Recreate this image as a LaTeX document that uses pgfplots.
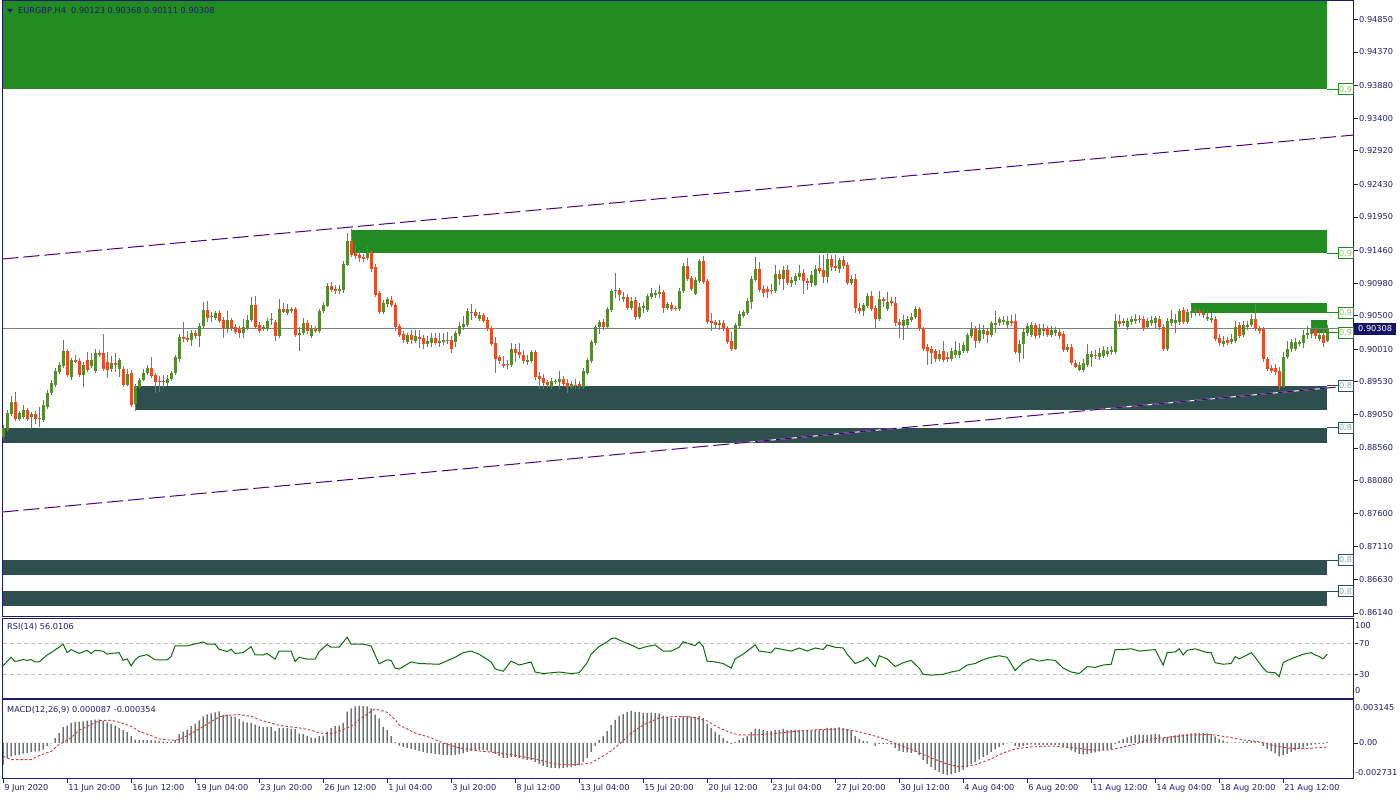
\documentclass[border=0pt]{standalone}
\usepackage{pgfplots}
\usepackage{pgfplotstable}
\pgfplotsset{compat=1.18}
\usepackage{fontspec}
\setmainfont{DejaVu Sans}
\definecolor{navyc}{RGB}{28,28,110}
\definecolor{upc}{RGB}{85,140,45}
\definecolor{dnc}{RGB}{245,72,34}
\definecolor{zoneg}{RGB}{34,139,34}
\definecolor{zoned}{RGB}{47,79,79}
\definecolor{trendc}{RGB}{75,0,130}
\definecolor{rsic}{RGB}{10,110,10}
\definecolor{histc}{RGB}{25,38,38}
\definecolor{sigc}{RGB}{215,50,50}
\definecolor{pricebg}{RGB}{20,20,100}
\definecolor{lblg}{RGB}{150,195,100}
\definecolor{lbld}{RGB}{130,170,185}
\newcommand{\mtfont}{\fontsize{8.2}{9.5}\selectfont}

\pgfplotstableread{
o h l c
0.8872 0.8890 0.8868 0.8885
0.8882 0.8912 0.8880 0.8907
0.8906 0.8932 0.8903 0.8924
0.8924 0.8938 0.8896 0.8899
0.8899 0.8910 0.8896 0.8907
0.8902 0.8919 0.8899 0.8912
0.8912 0.8915 0.8896 0.8899
0.8902 0.8909 0.8884 0.8906
0.8906 0.8910 0.8891 0.8899
0.8899 0.8916 0.8887 0.8900
0.8897 0.8926 0.8894 0.8919
0.8916 0.8941 0.8913 0.8937
0.8937 0.8956 0.8934 0.8951
0.8949 0.8973 0.8946 0.8969
0.8968 0.8982 0.8965 0.8978
0.8976 0.9015 0.8973 0.8998
0.8998 0.9001 0.8960 0.8963
0.8960 0.8988 0.8956 0.8985
0.8985 0.8993 0.8981 0.8982
0.8984 0.8988 0.8960 0.8963
0.8963 0.8982 0.8946 0.8978
0.8985 0.8997 0.8968 0.8971
0.8976 0.8995 0.8973 0.8985
0.8969 0.9001 0.8966 0.8995
0.8995 0.9000 0.8990 0.8993
0.8995 0.9023 0.8969 0.8972
0.8982 0.8997 0.8959 0.8971
0.8972 0.8991 0.8968 0.8981
0.8981 0.8995 0.8968 0.8978
0.8972 0.8988 0.8960 0.8985
0.8972 0.8976 0.8946 0.8949
0.8949 0.8972 0.8947 0.8965
0.8966 0.8971 0.8916 0.8919
0.8921 0.8950 0.8910 0.8947
0.8946 0.8959 0.8943 0.8956
0.8956 0.8972 0.8954 0.8966
0.8966 0.8978 0.8963 0.8973
0.8973 0.8990 0.8959 0.8962
0.8963 0.8966 0.8937 0.8953
0.8955 0.8962 0.8938 0.8954
0.8955 0.8963 0.8944 0.8954
0.8951 0.8963 0.8947 0.8957
0.8957 0.8969 0.8954 0.8966
0.8966 0.8993 0.8963 0.8990
0.8987 0.9023 0.8982 0.9019
0.9019 0.9041 0.9012 0.9016
0.9017 0.9028 0.9012 0.9015
0.9015 0.9029 0.9006 0.9025
0.9025 0.9029 0.9016 0.9020
0.9020 0.9039 0.9004 0.9035
0.9035 0.9070 0.9032 0.9059
0.9059 0.9072 0.9041 0.9047
0.9048 0.9056 0.9041 0.9050
0.9047 0.9057 0.9044 0.9054
0.9054 0.9059 0.9039 0.9042
0.9044 0.9048 0.9017 0.9031
0.9031 0.9057 0.9025 0.9044
0.9044 0.9047 0.9028 0.9032
0.9034 0.9038 0.9023 0.9026
0.9031 0.9035 0.9017 0.9025
0.9025 0.9045 0.9017 0.9034
0.9032 0.9051 0.9029 0.9044
0.9044 0.9078 0.9041 0.9066
0.9066 0.9079 0.9031 0.9034
0.9037 0.9041 0.9025 0.9028
0.9031 0.9037 0.9028 0.9033
0.9031 0.9047 0.9028 0.9042
0.9044 0.9054 0.9037 0.9045
0.9041 0.9044 0.9013 0.9020
0.9020 0.9075 0.9017 0.9060
0.9060 0.9069 0.9054 0.9056
0.9054 0.9067 0.9051 0.9060
0.9057 0.9063 0.9054 0.9060
0.9060 0.9063 0.9019 0.9022
0.9022 0.9034 0.8998 0.9025
0.9025 0.9047 0.9022 0.9039
0.9039 0.9044 0.9023 0.9028
0.9020 0.9037 0.9017 0.9031
0.9031 0.9035 0.9025 0.9028
0.9028 0.9060 0.9025 0.9057
0.9057 0.9070 0.9054 0.9066
0.9064 0.9098 0.9063 0.9094
0.9094 0.9100 0.9085 0.9088
0.9089 0.9095 0.9082 0.9086
0.9086 0.9095 0.9082 0.9089
0.9088 0.9130 0.9083 0.9126
0.9125 0.9171 0.9123 0.9160
0.9160 0.9177 0.9136 0.9139
0.9142 0.9154 0.9133 0.9138
0.9139 0.9147 0.9129 0.9135
0.9136 0.9141 0.9129 0.9133
0.9135 0.9152 0.9132 0.9144
0.9144 0.9147 0.9114 0.9119
0.9122 0.9126 0.9078 0.9081
0.9083 0.9086 0.9053 0.9056
0.9056 0.9073 0.9053 0.9069
0.9067 0.9078 0.9063 0.9075
0.9073 0.9079 0.9063 0.9066
0.9066 0.9069 0.9028 0.9034
0.9035 0.9038 0.9019 0.9022
0.9023 0.9028 0.9010 0.9015
0.9012 0.9025 0.9009 0.9022
0.9022 0.9029 0.9009 0.9015
0.9013 0.9029 0.9010 0.9020
0.9019 0.9029 0.9003 0.9016
0.9017 0.9022 0.9001 0.9009
0.9009 0.9020 0.9004 0.9013
0.9010 0.9025 0.9004 0.9017
0.9017 0.9025 0.9007 0.9010
0.9010 0.9025 0.9004 0.9013
0.9012 0.9025 0.9007 0.9015
0.9013 0.9026 0.9009 0.9015
0.9015 0.9020 0.8995 0.9001
0.9012 0.9028 0.9004 0.9025
0.9023 0.9041 0.9020 0.9035
0.9034 0.9050 0.9029 0.9038
0.9037 0.9061 0.9034 0.9057
0.9055 0.9067 0.9044 0.9056
0.9056 0.9060 0.9047 0.9050
0.9045 0.9056 0.9042 0.9051
0.9051 0.9054 0.9039 0.9042
0.9044 0.9048 0.9028 0.9031
0.9032 0.9035 0.9006 0.9009
0.9010 0.9019 0.8966 0.8987
0.8990 0.8993 0.8979 0.8984
0.8979 0.8991 0.8973 0.8976
0.8978 0.8985 0.8972 0.8979
0.8978 0.9010 0.8975 0.9001
0.9001 0.9009 0.8982 0.8995
0.8997 0.9010 0.8988 0.8993
0.8993 0.9000 0.8979 0.8984
0.8982 0.8993 0.8978 0.8985
0.8984 0.9000 0.8981 0.8997
0.8997 0.9000 0.8956 0.8960
0.8962 0.8968 0.8943 0.8957
0.8959 0.8965 0.8943 0.8951
0.8953 0.8956 0.8944 0.8948
0.8946 0.8959 0.8943 0.8954
0.8953 0.8957 0.8950 0.8955
0.8953 0.8969 0.8943 0.8957
0.8957 0.8962 0.8947 0.8950
0.8951 0.8957 0.8937 0.8946
0.8946 0.8954 0.8943 0.8950
0.8949 0.8957 0.8943 0.8948
0.8950 0.8954 0.8943 0.8947
0.8946 0.8973 0.8943 0.8969
0.8966 0.8988 0.8963 0.8985
0.8984 0.9015 0.8981 0.9012
0.9010 0.9037 0.9007 0.9034
0.9034 0.9044 0.9023 0.9041
0.9041 0.9045 0.9029 0.9034
0.9034 0.9063 0.9031 0.9060
0.9058 0.9089 0.9056 0.9086
0.9086 0.9113 0.9076 0.9088
0.9088 0.9091 0.9072 0.9081
0.9075 0.9085 0.9070 0.9078
0.9078 0.9082 0.9059 0.9061
0.9061 0.9078 0.9059 0.9072
0.9073 0.9078 0.9044 0.9048
0.9048 0.9069 0.9045 0.9063
0.9061 0.9070 0.9054 0.9064
0.9059 0.9082 0.9056 0.9079
0.9078 0.9091 0.9075 0.9083
0.9081 0.9088 0.9076 0.9083
0.9082 0.9095 0.9076 0.9085
0.9085 0.9088 0.9054 0.9061
0.9061 0.9070 0.9059 0.9067
0.9066 0.9070 0.9057 0.9060
0.9061 0.9064 0.9057 0.9060
0.9060 0.9091 0.9057 0.9086
0.9086 0.9127 0.9083 0.9123
0.9123 0.9135 0.9101 0.9104
0.9106 0.9108 0.9086 0.9089
0.9082 0.9107 0.9080 0.9102
0.9101 0.9133 0.9098 0.9130
0.9130 0.9138 0.9097 0.9100
0.9101 0.9104 0.9038 0.9041
0.9042 0.9054 0.9028 0.9039
0.9041 0.9044 0.9032 0.9037
0.9037 0.9044 0.9029 0.9039
0.9039 0.9044 0.9028 0.9031
0.9032 0.9035 0.9009 0.9012
0.9013 0.9026 0.8998 0.9001
0.9001 0.9039 0.9000 0.9036
0.9035 0.9057 0.9032 0.9053
0.9050 0.9059 0.9047 0.9056
0.9054 0.9076 0.9051 0.9072
0.9070 0.9108 0.9060 0.9104
0.9103 0.9136 0.9100 0.9119
0.9119 0.9129 0.9085 0.9088
0.9089 0.9095 0.9078 0.9083
0.9089 0.9094 0.9076 0.9085
0.9086 0.9097 0.9082 0.9088
0.9086 0.9125 0.9083 0.9111
0.9111 0.9117 0.9095 0.9104
0.9104 0.9123 0.9088 0.9117
0.9117 0.9125 0.9095 0.9098
0.9098 0.9107 0.9092 0.9103
0.9101 0.9113 0.9095 0.9108
0.9107 0.9125 0.9103 0.9113
0.9113 0.9119 0.9082 0.9101
0.9101 0.9105 0.9088 0.9098
0.9098 0.9116 0.9092 0.9110
0.9095 0.9125 0.9094 0.9119
0.9120 0.9139 0.9111 0.9116
0.9117 0.9139 0.9098 0.9107
0.9107 0.9148 0.9098 0.9133
0.9133 0.9139 0.9116 0.9122
0.9123 0.9139 0.9116 0.9120
0.9119 0.9135 0.9113 0.9132
0.9132 0.9138 0.9119 0.9123
0.9125 0.9129 0.9095 0.9098
0.9098 0.9110 0.9095 0.9104
0.9104 0.9111 0.9054 0.9061
0.9061 0.9069 0.9053 0.9057
0.9057 0.9069 0.9050 0.9066
0.9064 0.9083 0.9061 0.9079
0.9079 0.9086 0.9057 0.9060
0.9061 0.9066 0.9032 0.9045
0.9045 0.9086 0.9042 0.9075
0.9075 0.9078 0.9063 0.9072
0.9060 0.9085 0.9057 0.9070
0.9072 0.9078 0.9064 0.9069
0.9069 0.9078 0.9035 0.9039
0.9041 0.9045 0.9017 0.9037
0.9035 0.9051 0.9014 0.9044
0.9037 0.9050 0.9032 0.9045
0.9044 0.9054 0.9041 0.9048
0.9048 0.9064 0.9045 0.9060
0.9060 0.9063 0.9028 0.9031
0.9031 0.9034 0.8998 0.9001
0.9004 0.9009 0.8978 0.8998
0.9001 0.9006 0.8979 0.8995
0.8998 0.9001 0.8982 0.8987
0.8987 0.9000 0.8984 0.8994
0.8998 0.9013 0.8982 0.8985
0.8990 0.8997 0.8982 0.8987
0.8987 0.9003 0.8984 0.8998
0.8993 0.9013 0.8988 0.9000
0.8993 0.9010 0.8988 0.8998
0.8998 0.9012 0.8995 0.9007
0.8998 0.9025 0.8995 0.9022
0.9020 0.9041 0.9017 0.9031
0.9031 0.9035 0.9003 0.9013
0.9013 0.9038 0.9010 0.9029
0.9023 0.9037 0.9016 0.9029
0.9028 0.9032 0.9010 0.9022
0.9022 0.9042 0.9019 0.9039
0.9036 0.9057 0.9025 0.9039
0.9039 0.9048 0.9035 0.9045
0.9041 0.9050 0.9037 0.9044
0.9036 0.9050 0.9032 0.9042
0.9042 0.9051 0.9035 0.9039
0.9042 0.9053 0.8994 0.8997
0.8995 0.9015 0.8982 0.9009
0.9009 0.9032 0.8987 0.9026
0.9025 0.9039 0.9020 0.9035
0.9022 0.9041 0.9019 0.9037
0.9037 0.9039 0.9016 0.9020
0.9022 0.9038 0.9017 0.9032
0.9031 0.9038 0.9020 0.9028
0.9032 0.9035 0.9019 0.9022
0.9022 0.9035 0.9019 0.9029
0.9025 0.9034 0.9020 0.9029
0.9026 0.9031 0.9016 0.9020
0.9023 0.9028 0.8997 0.9000
0.9000 0.9009 0.8997 0.9004
0.9004 0.9009 0.8978 0.8981
0.8981 0.8985 0.8973 0.8975
0.8971 0.8982 0.8969 0.8978
0.8971 0.8987 0.8968 0.8981
0.8978 0.9009 0.8975 0.8994
0.8990 0.8998 0.8975 0.8994
0.8993 0.9000 0.8987 0.8991
0.8990 0.9003 0.8985 0.8995
0.8991 0.9006 0.8988 0.9000
0.8994 0.9004 0.8990 0.8998
0.8997 0.9006 0.8993 0.9000
0.8997 0.9053 0.8994 0.9042
0.9042 0.9051 0.9034 0.9038
0.9039 0.9047 0.9035 0.9042
0.9034 0.9047 0.9029 0.9042
0.9041 0.9050 0.9037 0.9045
0.9042 0.9053 0.9038 0.9045
0.9045 0.9051 0.9039 0.9044
0.9045 0.9050 0.9028 0.9031
0.9034 0.9047 0.9031 0.9042
0.9039 0.9050 0.9035 0.9044
0.9039 0.9050 0.9032 0.9047
0.9045 0.9050 0.9029 0.9034
0.9034 0.9038 0.8998 0.9001
0.9001 0.9047 0.8998 0.9042
0.9039 0.9059 0.9035 0.9045
0.9039 0.9053 0.9025 0.9044
0.9041 0.9060 0.9037 0.9057
0.9059 0.9063 0.9038 0.9041
0.9041 0.9060 0.9038 0.9056
0.9054 0.9063 0.9047 0.9057
0.9056 0.9064 0.9050 0.9060
0.9057 0.9061 0.9050 0.9054
0.9054 0.9061 0.9047 0.9051
0.9045 0.9060 0.9042 0.9048
0.9044 0.9054 0.9039 0.9047
0.9045 0.9050 0.9013 0.9016
0.9017 0.9023 0.9006 0.9010
0.9009 0.9020 0.9004 0.9013
0.9015 0.9019 0.9007 0.9010
0.9012 0.9023 0.9009 0.9016
0.9013 0.9042 0.9010 0.9034
0.9037 0.9041 0.9017 0.9020
0.9022 0.9042 0.9019 0.9037
0.9034 0.9042 0.9029 0.9037
0.9037 0.9053 0.9034 0.9045
0.9045 0.9067 0.9028 0.9031
0.9031 0.9035 0.9023 0.9028
0.9031 0.9034 0.8982 0.8987
0.8987 0.8990 0.8969 0.8972
0.8973 0.8978 0.8966 0.8969
0.8973 0.8979 0.8963 0.8968
0.8969 0.8975 0.8941 0.8946
0.8946 0.8997 0.8944 0.8990
0.8990 0.9013 0.8987 0.9001
0.9001 0.9016 0.8997 0.9012
0.9001 0.9017 0.8998 0.9012
0.9009 0.9015 0.9006 0.9012
0.9010 0.9029 0.9003 0.9022
0.9022 0.9035 0.9016 0.9025
0.9023 0.9035 0.9017 0.9031
0.9029 0.9035 0.9016 0.9020
0.9016 0.9029 0.9013 0.9022
0.9022 0.9031 0.9004 0.9010
0.90123 0.90368 0.90111 0.90308
}\ohlc

\pgfplotstableread[row sep=\\]{m\\
-0.00184\\ -0.00128\\ -0.00114\\ -0.00107\\ -0.00102\\ -0.00091\\ -0.00085\\ -0.00079\\ -0.00071\\ -0.00071\\
-0.00057\\ -0.00028\\ -0.00004\\ 0.00043\\ 0.00085\\ 0.00136\\ 0.00147\\ 0.00170\\ 0.00179\\ 0.00181\\
0.00184\\ 0.00190\\ 0.00193\\ 0.00198\\ 0.00198\\ 0.00187\\ 0.00176\\ 0.00162\\ 0.00147\\ 0.00128\\
0.00108\\ 0.00091\\ 0.00057\\ 0.00028\\ 0.00023\\ 0.00023\\ 0.00023\\ 0.00023\\ 0.00020\\ 0.00017\\
0.00011\\ 0.00006\\ 0.00011\\ 0.00023\\ 0.00074\\ 0.00096\\ 0.00113\\ 0.00142\\ 0.00164\\ 0.00193\\
0.00227\\ 0.00244\\ 0.00252\\ 0.00261\\ 0.00269\\ 0.00238\\ 0.00241\\ 0.00227\\ 0.00221\\ 0.00204\\
0.00181\\ 0.00176\\ 0.00170\\ 0.00156\\ 0.00142\\ 0.00136\\ 0.00136\\ 0.00136\\ 0.00102\\ 0.00128\\
0.00128\\ 0.00128\\ 0.00119\\ 0.00119\\ 0.00079\\ 0.00074\\ 0.00057\\ 0.00045\\ 0.00043\\ 0.00057\\
0.00062\\ 0.00096\\ 0.00125\\ 0.00142\\ 0.00147\\ 0.00170\\ 0.00266\\ 0.00295\\ 0.00312\\ 0.003145\\
0.00313\\ 0.00312\\ 0.00295\\ 0.00241\\ 0.00210\\ 0.00136\\ 0.00108\\ 0.00057\\ 0.00006\\ -0.00023\\
-0.00034\\ -0.00043\\ -0.00051\\ -0.00060\\ -0.00068\\ -0.00077\\ -0.00085\\ -0.00089\\ -0.00094\\ -0.00098\\
-0.00102\\ -0.00102\\ -0.00106\\ -0.00102\\ -0.00094\\ -0.00089\\ -0.00077\\ -0.00068\\ -0.00060\\ -0.00060\\
-0.00060\\ -0.00064\\ -0.00077\\ -0.00094\\ -0.00111\\ -0.00128\\ -0.00128\\ -0.00119\\ -0.00119\\ -0.00128\\
-0.00136\\ -0.00145\\ -0.00145\\ -0.00162\\ -0.00179\\ -0.00196\\ -0.00204\\ -0.00213\\ -0.00213\\ -0.00217\\
-0.00213\\ -0.00208\\ -0.00204\\ -0.00196\\ -0.00187\\ -0.00162\\ -0.00128\\ -0.00077\\ -0.00026\\ 0.00026\\
0.00060\\ 0.00102\\ 0.00153\\ 0.00196\\ 0.00230\\ 0.00247\\ 0.00264\\ 0.00272\\ 0.00264\\ 0.00264\\
0.00255\\ 0.00255\\ 0.00255\\ 0.00255\\ 0.00251\\ 0.00230\\ 0.00221\\ 0.00213\\ 0.00204\\ 0.00213\\
0.00230\\ 0.00230\\ 0.00221\\ 0.00221\\ 0.00230\\ 0.00213\\ 0.00162\\ 0.00128\\ 0.00094\\ 0.00068\\
0.00043\\ 0.00017\\ -0.00009\\ 0.00009\\ 0.00026\\ 0.00043\\ 0.00060\\ 0.00094\\ 0.00119\\ 0.00119\\
0.00111\\ 0.00102\\ 0.00102\\ 0.00111\\ 0.00111\\ 0.00119\\ 0.00111\\ 0.00111\\ 0.00111\\ 0.00111\\
0.00106\\ 0.00102\\ 0.00102\\ 0.00111\\ 0.00115\\ 0.00115\\ 0.00128\\ 0.00128\\ 0.00128\\ 0.00132\\
0.00128\\ 0.00119\\ 0.00102\\ 0.00060\\ 0.00034\\ 0.00017\\ 0.00013\\ 0.00000\\ -0.00026\\ -0.00009\\
-0.00009\\ -0.00009\\ -0.00013\\ -0.00043\\ -0.00068\\ -0.00077\\ -0.00081\\ -0.00085\\ -0.00077\\ -0.00102\\
-0.00145\\ -0.00179\\ -0.00204\\ -0.00230\\ -0.00247\\ -0.00264\\ -0.002731\\ -0.00268\\ -0.00255\\ -0.00247\\
-0.00230\\ -0.00208\\ -0.00179\\ -0.00162\\ -0.00140\\ -0.00119\\ -0.00102\\ -0.00077\\ -0.00055\\ -0.00034\\
-0.00017\\ -0.00004\\ 0.00004\\ -0.00026\\ -0.00034\\ -0.00026\\ -0.00017\\ -0.00013\\ -0.00017\\ -0.00017\\
-0.00017\\ -0.00017\\ -0.00017\\ -0.00017\\ -0.00017\\ -0.00034\\ -0.00043\\ -0.00064\\ -0.00081\\ -0.00094\\
-0.00098\\ -0.00094\\ -0.00085\\ -0.00081\\ -0.00072\\ -0.00064\\ -0.00055\\ -0.00051\\ -0.00009\\ 0.00017\\
0.00034\\ 0.00047\\ 0.00060\\ 0.00068\\ 0.00072\\ 0.00068\\ 0.00068\\ 0.00072\\ 0.00077\\ 0.00072\\
0.00043\\ 0.00051\\ 0.00060\\ 0.00064\\ 0.00072\\ 0.00072\\ 0.00077\\ 0.00081\\ 0.00085\\ 0.00085\\
0.00085\\ 0.00081\\ 0.00077\\ 0.00055\\ 0.00034\\ 0.00021\\ 0.00009\\ 0.00000\\ 0.00004\\ 0.00004\\
0.00009\\ 0.00013\\ 0.00017\\ 0.00013\\ 0.00004\\ -0.00026\\ -0.00051\\ -0.00072\\ -0.00089\\ -0.00115\\
-0.00106\\ -0.00094\\ -0.00077\\ -0.00064\\ -0.00051\\ -0.00038\\ -0.00026\\ -0.00017\\ -0.00013\\ -0.00009\\
-0.00009\\ 0.000087\\
}\macd

\pgfplotsset{
  mtpanel/.style={
    scale only axis, width=1351.5pt, xmin=-0.15, xmax=337.7,
    axis line style={draw=navyc, line width=1pt},
    tick style={draw=navyc, line width=0.8pt},
    tick align=outside, major tick length=4pt,
    ytick pos=right, yticklabel pos=right,
    yticklabel style={font=\mtfont, text=navyc, anchor=west, inner sep=1pt},
    scaled x ticks=false, scaled y ticks=false,
    xtick=\empty, clip=false,
  },
}
\newcommand{\lvlbox}[4]{%
  \draw[#1, line width=1pt] (axis cs:330.9,#2) -- (axis cs:333.6,#2);
  \node[draw=#1, line width=1pt, fill=white, text=#3, font=\mtfont, anchor=west,
        inner sep=0.5pt, minimum height=11pt, minimum width=15pt] at (axis cs:333.6,#2) {#4};}

\begin{document}
\begin{tikzpicture}
\useasboundingbox (0,0) rectangle (1400pt,800pt);

% ---------------- main price panel ----------------
\begin{axis}[mtpanel, at={(2.5pt,183pt)}, anchor=south west, height=616pt,
  ymin=0.86081, ymax=0.95118,
  ytick={0.94850,0.94370,0.93880,0.93400,0.92920,0.92430,0.91950,0.91460,0.90980,0.90500,0.90010,0.89530,0.89050,0.88560,0.88080,0.87600,0.87110,0.86630,0.86140},
  yticklabels={0.94850,0.94370,0.93880,0.93400,0.92920,0.92430,0.91950,0.91460,0.90980,0.90500,0.90010,0.89530,0.89050,0.88560,0.88080,0.87600,0.87110,0.86630,0.86140}]

% zones
\addplot[fill=zoneg, draw=none] coordinates {(-0.15,0.95118) (330.9,0.95118) (330.9,0.93823) (-0.15,0.93823)} -- cycle;
\addplot[fill=zoneg, draw=none] coordinates {(86.9,0.91759) (330.9,0.91759) (330.9,0.91417) (86.9,0.91417)} -- cycle;
\addplot[fill=zoneg, draw=none] coordinates {(296.9,0.90683) (330.9,0.90683) (330.9,0.90545) (296.9,0.90545)} -- cycle;
\addplot[fill=zoneg, draw=none] coordinates {(326.9,0.90438) (330.9,0.90438) (330.9,0.90248) (326.9,0.90248)} -- cycle;
\addplot[fill=zoned, draw=none] coordinates {(32.9,0.89470) (330.9,0.89470) (330.9,0.89118) (32.9,0.89118)} -- cycle;
\addplot[fill=zoned, draw=none] coordinates {(-0.15,0.88854) (330.9,0.88854) (330.9,0.88634) (-0.15,0.88634)} -- cycle;
\addplot[fill=zoned, draw=none] coordinates {(-0.15,0.86917) (330.9,0.86917) (330.9,0.86697) (-0.15,0.86697)} -- cycle;
\addplot[fill=zoned, draw=none] coordinates {(-0.15,0.86462) (330.9,0.86462) (330.9,0.86235) (-0.15,0.86235)} -- cycle;

% trend channel
\addplot[trendc, line width=1pt, dash pattern=on 16pt off 5pt] coordinates {(-0.15,0.91333) (337.7,0.93152)};
\addplot[white, line width=1pt] coordinates {(-0.15,0.87621) (337.7,0.89477)};
\addplot[trendc, line width=1pt, dash pattern=on 16pt off 5pt] coordinates {(-0.15,0.87621) (337.7,0.89477)};

% last price line
\addplot[gray, line width=1pt] coordinates {(-0.15,0.90308) (337.7,0.90308)};

% candles: wicks
\addplot[draw=none, restrict expr to domain={\thisrow{c}-\thisrow{o}}{0:1},
  error bars/.cd, y dir=plus, y explicit, error mark=none,
  error bar style={draw=upc, line width=1pt, solid}]
  table[x expr=\coordindex, y=l, y error expr=\thisrow{h}-\thisrow{l}] {\ohlc};
\addplot[draw=none, restrict expr to domain={\thisrow{c}-\thisrow{o}}{-1:-0.000001},
  error bars/.cd, y dir=plus, y explicit, error mark=none,
  error bar style={draw=dnc, line width=1pt, solid}]
  table[x expr=\coordindex, y=l, y error expr=\thisrow{h}-\thisrow{l}] {\ohlc};
% candles: bodies
\addplot[draw=none, restrict expr to domain={\thisrow{c}-\thisrow{o}}{0:1},
  error bars/.cd, y dir=plus, y explicit, error mark=none,
  error bar style={draw=upc, line width=3pt, solid}]
  table[x expr=\coordindex, y expr={min(\thisrow{o},\thisrow{c})}, y error expr={max(abs(\thisrow{c}-\thisrow{o}),0.00003)}] {\ohlc};
\addplot[draw=none, restrict expr to domain={\thisrow{c}-\thisrow{o}}{-1:-0.000001},
  error bars/.cd, y dir=plus, y explicit, error mark=none,
  error bar style={draw=dnc, line width=3pt, solid}]
  table[x expr=\coordindex, y expr={min(\thisrow{o},\thisrow{c})}, y error expr={max(abs(\thisrow{c}-\thisrow{o}),0.00003)}] {\ohlc};

% level labels
\lvlbox{zoneg}{0.93823}{lblg}{0.9}
\lvlbox{zoneg}{0.91417}{lblg}{0.9}
\lvlbox{zoneg}{0.90545}{lblg}{0.9}
\lvlbox{zoneg}{0.90248}{lblg}{0.9}
\lvlbox{zoned}{0.89470}{lbld}{0.8}
\lvlbox{zoned}{0.88854}{lbld}{0.8}
\lvlbox{zoned}{0.86917}{lbld}{0.8}
\lvlbox{zoned}{0.86462}{lbld}{0.8}
\node[fill=pricebg, text=white, font=\mtfont, anchor=west, inner xsep=4pt, inner ysep=1pt, minimum height=12pt] at (axis cs:337.7,0.90308) {0.90308};
\end{axis}

% ---------------- RSI panel ----------------
\begin{axis}[mtpanel, at={(2.5pt,101.5pt)}, anchor=south west, height=80pt,
  ymin=-1.2, ymax=102.1, ytick={30,70}, yticklabels={30,70},
  extra y ticks={93.6,9}, extra y tick labels={100,0},
  extra y tick style={major tick length=0pt}]
\addplot[draw={rgb,255:red,192;green,192;blue,192}, line width=1pt, dash pattern=on 4pt off 3pt] coordinates {(-0.15,70) (337.7,70)};
\addplot[draw={rgb,255:red,192;green,192;blue,192}, line width=1pt, dash pattern=on 4pt off 3pt] coordinates {(-0.15,30) (337.7,30)};
\addplot[rsic, line width=1pt] coordinates {
(0,41) (2,52) (3,46.5) (5,49) (6,48) (7,49) (8,46) (9,46) (11,55) (12,58) (14,65) (15,69) (16,58) (17,62) (19,57) (21,61) (22,57) (23,61) (25,60) (26,56) (27,57) (29,58) (30,48) (31,50) (32,41) (33,48.7) (34,53) (36,55.5) (38,48.7) (41,48.7) (42,53) (43,66.7) (46,66.7) (47,68) (50,71.8) (51,69) (53,69) (54,62.4) (56,59.4) (57,62.4) (58,57) (60,58) (62,65.8) (63,55) (65,55) (66,57) (68,49.6) (69,60) (72,60) (73,46.5) (74,52) (76,49.6) (78,49.6) (79,59.4) (81,68.4) (82,65) (84,65) (86,77.8) (87,69) (90,69) (92,66.7) (93,55) (94,43.6) (96,48.7) (97,48) (98,38) (99,36.8)
(102,46) (104,44) (109,43) (113,52) (115,58) (117,60) (119,56) (122,46) (123,37) (125,34) (127,47) (129,42) (132,46) (133,33) (135,31) (139,33) (142,31) (144,32) (146,45) (147,56) (149,66) (151,72) (152,76) (153,77) (155,72) (157,68) (159,63) (161,66) (163,68) (165,60) (167,60) (169,65) (170,72) (173,67) (174,72) (175,66) (176,47) (178,46) (180,44) (182,38) (183,50) (185,56) (187,64) (188,68) (189,60) (192,58) (193,64) (197,60) (199,64) (201,60) (203,64) (205,62) (206,68) (208,65) (210,64) (211,56) (213,44) (215,48) (216,52) (217,46) (218,40) (219,54) (221,50) (223,40) (225,45) (227,48) (229,38) (230,30) (232,29) (235,30) (237,33) (239,35) (241,42) (243,44) (245,49) (247,52) (249,54) (251,52) (253,35) (255,45) (257,50) (259,47) (261,49) (263,48) (265,38) (267,33) (269,31) (271,40) (273,39) (275,42) (277,43) (278,62) (280,62) (282,63) (284,60) (286,61) (288,62) (289,52) (290,42) (291,58) (293,59) (294,63) (295,55) (296,61) (298,63) (301,58) (302,58) (303,45) (305,43) (307,44) (308,53) (309,50) (311,55) (312,58) (313,52) (315,38) (316,33) (318,32) (319,27) (320,45) (321,48) (323,52) (325,56) (327,58) (328,55) (329,53) (330,50) (331,56.01)
};
\end{axis}

% ---------------- MACD panel ----------------
\begin{axis}[mtpanel, at={(2.5pt,21pt)}, anchor=south west, height=79pt,
  ymin=-0.003071, ymax=0.003655, ytick={0}, yticklabels={0.00},
  extra y ticks={0.0030,-0.00249}, extra y tick labels={0.003145,-0.002731},
  extra y tick style={major tick length=0pt},
  xtick={0,16,...,320}, xtick pos=left,
  xticklabels={9 Jun 2020,11 Jun 20:00,16 Jun 12:00,19 Jun 04:00,23 Jun 20:00,26 Jun 12:00,1 Jul 04:00,3 Jul 20:00,8 Jul 12:00,13 Jul 04:00,15 Jul 20:00,20 Jul 12:00,23 Jul 04:00,27 Jul 20:00,30 Jul 12:00,4 Aug 04:00,6 Aug 20:00,11 Aug 12:00,14 Aug 04:00,18 Aug 20:00,21 Aug 12:00},
  xticklabel style={font=\mtfont, text=navyc, anchor=north west, inner sep=1pt}]
\addplot[ybar, bar width=1.1pt, fill=histc, draw=none] table[x expr=\coordindex, y=m] {\macd};
\addplot[sigc, line width=0.9pt, dash pattern=on 2.5pt off 2pt] coordinates {
(0,-0.00114) (2,-0.00142) (7,-0.00142) (9,-0.00108) (12,-0.00071) (14,-0.00014) (17,0.00043) (19,0.00108) (22,0.00156) (24,0.00190) (27,0.00193) (29,0.00176) (32,0.00142) (34,0.00099) (37,0.00062) (39,0.00034) (42,0.00023) (44,0.00028) (47,0.00079) (49,0.00119) (52,0.00181) (54,0.00221) (57,0.00238) (59,0.00241) (62,0.00227) (64,0.00198) (67,0.00170) (69,0.00150) (72,0.00136) (74,0.00128) (77,0.00108) (79,0.00085) (82,0.00079) (84,0.00099) (87,0.00142) (89,0.00198) (92,0.00269) (93,0.00289) (96,0.00261) (98,0.00198) (99,0.00153) (103,0.00085) (107,0.00043) (110,0) (114,-0.00043) (119,-0.00068) (124,-0.00085) (129,-0.00111) (134,-0.00145) (138,-0.00179) (142,-0.00187) (145,-0.00179) (147,-0.00170) (150,-0.00111) (152,-0.00068) (155,0.00017) (157,0.00085) (160,0.00153) (164,0.00213) (168,0.00225) (172,0.00221) (176,0.00187) (179,0.00128) (182,0.00085) (184,0.00068) (188,0.00068) (192,0.00077) (199,0.00102) (205,0.00115) (209,0.00119) (213,0.00102) (217,0.00068) (221,0.00026) (224,-0.00017) (228,-0.00068) (232,-0.00128) (236,-0.00179) (239,-0.00204) (243,-0.00187) (247,-0.00136) (250,-0.00085) (253,-0.00051) (257,-0.00034) (262,-0.00026) (268,-0.00043) (272,-0.00060) (276,-0.00060) (279,-0.00043) (283,-0.00009) (287,0.00034) (292,0.00051) (297,0.00068) (302,0.00072) (306,0.00051) (310,0.00026) (314,0.00009) (318,-0.00026) (322,-0.00047) (326,-0.00047) (331,-0.000354)
};
\end{axis}

% captions
\fill[navyc] (7pt,791pt) -- (13pt,791pt) -- (10pt,787.5pt) -- cycle;
\node[anchor=base west, inner sep=0pt, font=\mtfont, text=navyc] at (18pt,786.3pt) {EURGBP,H4\ \ 0.90123 0.90368 0.90111 0.90308};
\node[anchor=base west, inner sep=0pt, font=\mtfont, text=navyc] at (7pt,170pt) {RSI(14) 56.0106};
\node[anchor=base west, inner sep=0pt, font=\mtfont, text=navyc] at (7pt,87.5pt) {MACD(12,26,9) 0.000087 -0.000354};
\end{tikzpicture}
\end{document}
